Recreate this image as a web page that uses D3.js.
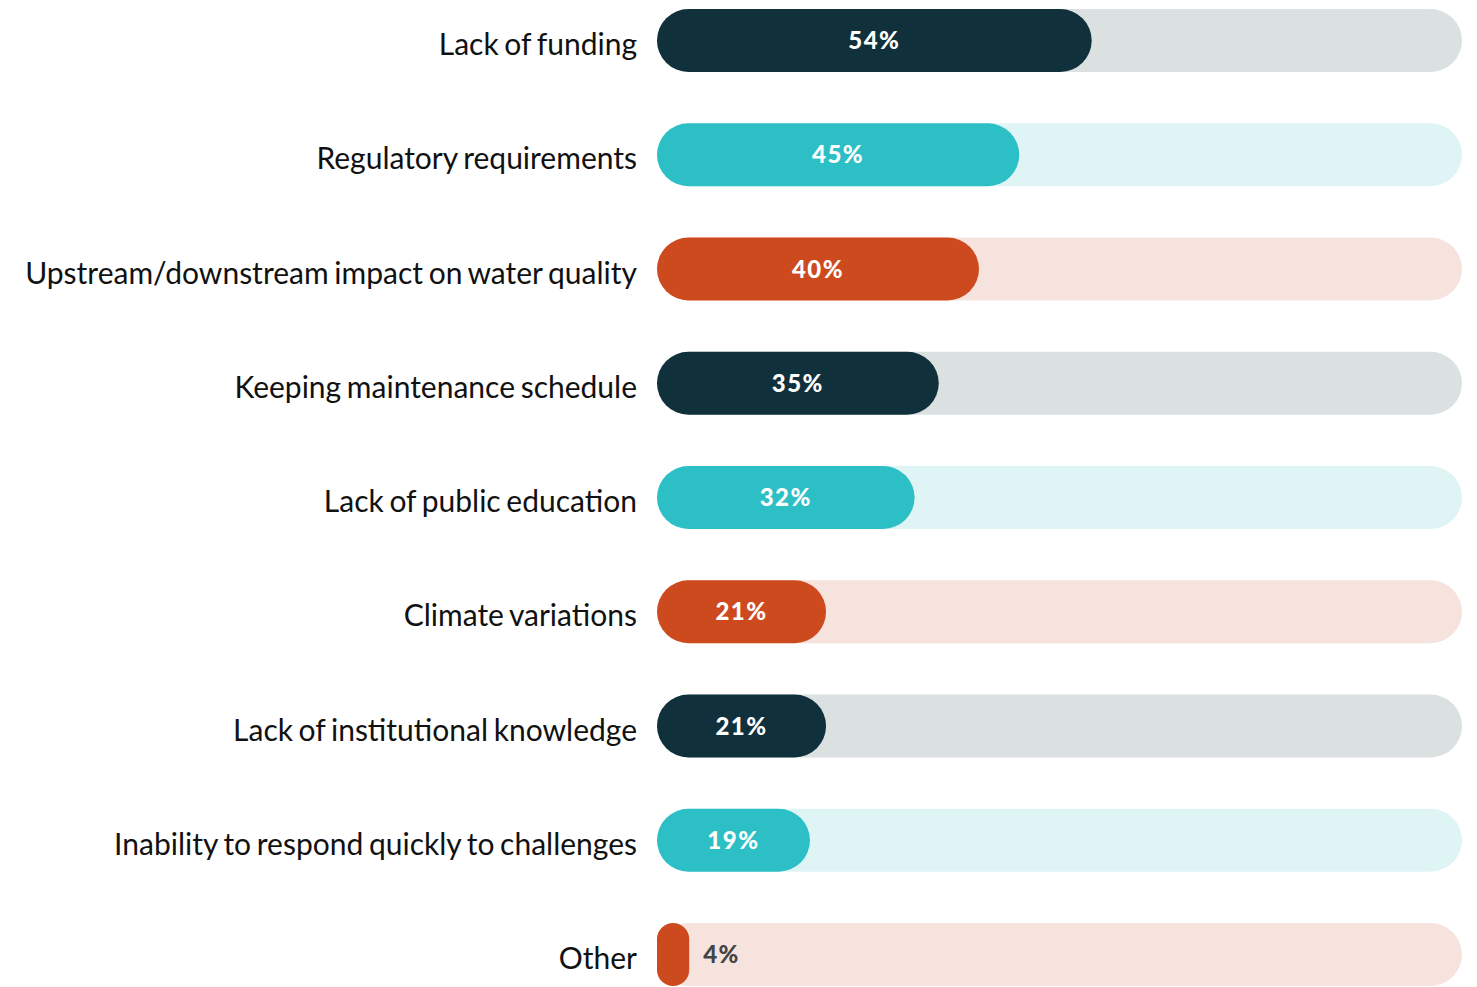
<!DOCTYPE html>
<html><head><meta charset="utf-8">
<script src="https://cdn.jsdelivr.net/npm/d3@7"></script>
<style>body{margin:0;background:#fff;} svg{display:block;}</style>
</head><body>
<script>
const categories = ["Lack of funding","Regulatory requirements","Upstream/downstream impact on water quality","Keeping maintenance schedule","Lack of public education","Climate variations","Lack of institutional knowledge","Inability to respond quickly to challenges","Other"];
const values = [54,45,40,35,32,21,21,19,4];
const colorGroups = ["navy","teal","orange","navy","teal","orange","navy","teal","orange"];
const fillColors = {navy:"#10303b", teal:"#2dbfc6", orange:"#cd4a1f"};
const trackColors = {navy:"#dbe1e1", teal:"#dff4f5", orange:"#f7e3de"};

const W = 1477, H = 987;
const svg = d3.select("body").append("svg").attr("width", W).attr("height", H);
const x = d3.scaleLinear().domain([0,100]).range([657,1462]);
const y = d3.scalePoint().domain(categories).range([40.5, 954.5]);
const bh = 63;
const r = bh/2;

const g = svg.selectAll("g.row").data(categories).enter().append("g").attr("class","row");
g.append("rect").attr("x", x(0)).attr("y", d=>y(d)-r).attr("width", x(100)-x(0)).attr("height", bh)
  .attr("rx", r).attr("fill", (d,i)=>trackColors[colorGroups[i]]);
g.append("rect").attr("x", x(0)).attr("y", d=>y(d)-r).attr("width", (d,i)=>x(values[i])-x(0))
  .attr("height", bh).attr("rx", (d,i)=>Math.min(r,(x(values[i])-x(0))/2)).attr("ry", (d,i)=>Math.min(r,(x(values[i])-x(0))/2))
  .attr("fill", (d,i)=>fillColors[colorGroups[i]]);
g.append("text").attr("x", 637).attr("y", d=>y(d)+14.5).attr("text-anchor","end")
  .attr("font-family","Lato, sans-serif").attr("font-size", 30).attr("fill","#111")
  .attr("word-spacing", -2)
  .text(d=>d);
g.append("text")
  .attr("x", (d,i)=> values[i] < 10 ? x(values[i]) + 14 : (x(0)+x(values[i]))/2)
  .attr("text-anchor", (d,i)=> values[i] < 10 ? "start" : "middle")
  .attr("y", d=>y(d)+8.5)
  .attr("font-family","Lato, sans-serif").attr("font-weight", 900).attr("font-size", 24)
  .attr("letter-spacing", 1.5)
  .attr("fill", (d,i)=> values[i] < 10 ? "#444" : "#fff")
  .text((d,i)=>values[i]+"%");
</script>
</body></html>
